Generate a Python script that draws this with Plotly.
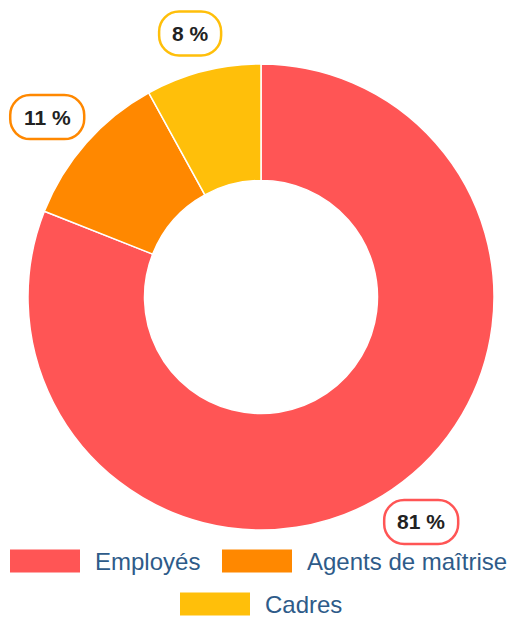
import math
import plotly.graph_objects as go

# ---- data ----
categories = ["Employés", "Agents de maîtrise", "Cadres"]
values = [81, 11, 8]
colors = ["#FF5555", "#FF8800", "#FFBF0A"]
pct_labels = ["81 %", "11 %", "8 %"]

# ---- layout constants (pixels) ----
W, H = 517, 617
CX, CY, R = 261, 297, 233
HOLE = 0.5
LABEL_RX, LABEL_RY = 285, 272

fig = go.Figure()

fig.add_trace(go.Pie(
    labels=categories, values=values, sort=False, direction="clockwise",
    rotation=0, hole=HOLE, textinfo="none", hoverinfo="label+percent",
    marker=dict(colors=colors, line=dict(color="white", width=1.5)),
    showlegend=False,
    domain=dict(x=[(CX - R) / W, (CX + R) / W],
                y=[(H - CY - R) / H, (H - CY + R) / H]),
))

# invisible trace to establish a pixel coordinate system
fig.add_trace(go.Scatter(x=[0, W], y=[0, H], mode="markers",
                         marker=dict(opacity=0), hoverinfo="skip", showlegend=False))


def pill(cx, cy, w, h, r):
    k = 0.5523 * r
    x0, x1, y0, y1 = cx - w / 2, cx + w / 2, cy - h / 2, cy + h / 2
    return (f"M {x0 + r},{y0} L {x1 - r},{y0} "
            f"C {x1 - r + k},{y0} {x1},{y0 + r - k} {x1},{y0 + r} "
            f"L {x1},{y1 - r} "
            f"C {x1},{y1 - r + k} {x1 - r + k},{y1} {x1 - r},{y1} "
            f"L {x0 + r},{y1} "
            f"C {x0 + r - k},{y1} {x0},{y1 - r + k} {x0},{y1 - r} "
            f"L {x0},{y0 + r} "
            f"C {x0},{y0 + r - k} {x0 + r - k},{y0} {x0 + r},{y0} Z")


shapes = []
annotations = []
total = sum(values)
cum = 0
for cat, v, col, lab in zip(categories, values, colors, pct_labels):
    mid = 2 * math.pi * (cum + v / 2) / total
    cum += v
    lx = CX + LABEL_RX * math.sin(mid)
    ly = CY - LABEL_RY * math.cos(mid)
    nd = len(lab.replace(" %", ""))
    bw = 50 + 12 * nd
    bh = 44
    shapes.append(dict(type="path", xref="x", yref="y", path=pill(lx, ly, bw, bh, 20),
                       line=dict(color=col, width=2.5), fillcolor="white", layer="above"))
    annotations.append(dict(x=lx, y=ly, xref="x", yref="y", text=f"<b>{lab}</b>",
                            showarrow=False, font=dict(family="Liberation Sans", size=21, color="#222222")))

# ---- manual legend ----
legend_pos = [(10, 561), (222, 561), (180, 604)]  # swatch left x, row center y
SW, SH = 70, 23
for (sx, sy), cat, col in zip(legend_pos, categories, colors):
    shapes.append(dict(type="rect", xref="x", yref="y", x0=sx, x1=sx + SW,
                       y0=sy - SH / 2, y1=sy + SH / 2, fillcolor=col,
                       line=dict(width=0), layer="above"))
    annotations.append(dict(x=sx + SW + 13, y=sy, xref="x", yref="y", text=cat,
                            xanchor="left", yanchor="middle", showarrow=False,
                            font=dict(family="Liberation Sans", size=24, color="#2E5B89")))

fig.update_layout(
    width=W, height=H, margin=dict(l=0, r=0, t=0, b=0),
    paper_bgcolor="white", plot_bgcolor="rgba(0,0,0,0)",
    xaxis=dict(range=[0, W], visible=False, fixedrange=True, domain=[0, 1]),
    yaxis=dict(range=[H, 0], visible=False, fixedrange=True, domain=[0, 1]),
    shapes=shapes, annotations=annotations,
)

fig.write_html("out.html", config={"displayModeBar": False},
               post_script="document.body.style.margin='0';document.body.style.overflow='hidden';")
